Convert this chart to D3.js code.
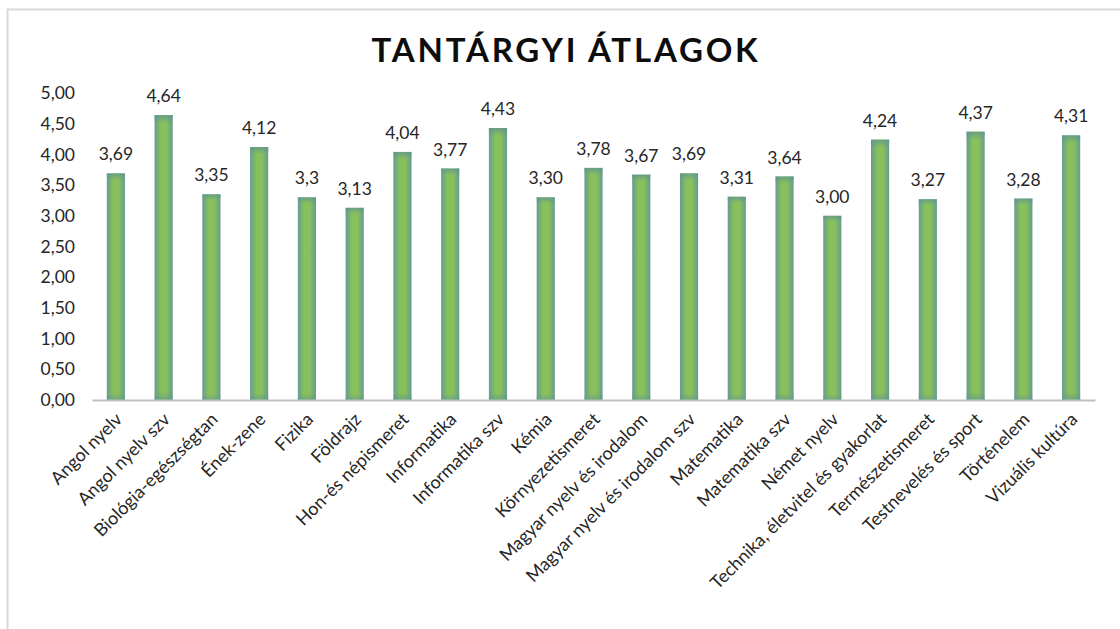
<!DOCTYPE html>
<html lang="hu">
<head>
<meta charset="utf-8">
<title>Tantárgyi átlagok</title>
<script src="https://d3js.org/d3.v7.min.js"></script>
<style>
  body { margin: 0; background: #fff; }
  text { font-family: Lato, "Open Sans", sans-serif; fill: #262626; }
</style>
</head>
<body>
<div id="chart"></div>
<script>
// data
var subjects = ["Angol nyelv", "Angol nyelv szv", "Biológia-egészségtan", "Ének-zene", "Fizika",
  "Földrajz", "Hon-és népismeret", "Informatika", "Informatika szv", "Kémia",
  "Környezetismeret", "Magyar nyelv és irodalom", "Magyar nyelv és irodalom szv", "Matematika",
  "Matematika szv", "Német nyelv", "Technika, életvitel és gyakorlat", "Természetismeret",
  "Testnevelés és sport", "Történelem", "Vizuális kultúra"];
var averages = [3.69, 4.64, 3.35, 4.12, 3.3, 3.13, 4.04, 3.77, 4.43, 3.30, 3.78,
  3.67, 3.69, 3.31, 3.64, 3.00, 4.24, 3.27, 4.37, 3.28, 4.31];
var valueLabels = ["3,69", "4,64", "3,35", "4,12", "3,3", "3,13", "4,04", "3,77", "4,43", "3,30", "3,78",
  "3,67", "3,69", "3,31", "3,64", "3,00", "4,24", "3,27", "4,37", "3,28", "4,31"];
var yTicks = [0, 0.5, 1, 1.5, 2, 2.5, 3, 3.5, 4, 4.5, 5];

var W = 1120, H = 629;
var margin = {top: 93, right: 25, bottom: 229, left: 92};

var svg = d3.select("#chart").append("svg")
    .attr("width", W)
    .attr("height", H);

// chart border (only left and top visible in the frame)
svg.append("rect")
    .attr("x", 7.5).attr("y", 9.5)
    .attr("width", W + 20).attr("height", H + 20)
    .attr("fill", "none")
    .attr("stroke", "#d9d9d9")
    .attr("stroke-width", 2);

// bar gradient: teal edges, green middle
var defs = svg.append("defs");
var grad = defs.append("linearGradient").attr("id", "barGrad")
    .attr("x1", "0%").attr("x2", "100%").attr("y1", "0%").attr("y2", "0%");
grad.append("stop").attr("offset", "0%").attr("stop-color", "#669c8e");
grad.append("stop").attr("offset", "35%").attr("stop-color", "#88c05c");
grad.append("stop").attr("offset", "65%").attr("stop-color", "#88c05c");
grad.append("stop").attr("offset", "100%").attr("stop-color", "#669c8e");
var gradV = defs.append("linearGradient").attr("id", "barTop")
    .attr("x1", "0%").attr("x2", "0%").attr("y1", "0%").attr("y2", "100%")
    .attr("gradientUnits", "objectBoundingBox");
gradV.append("stop").attr("offset", "0").attr("stop-color", "#5f968c").attr("stop-opacity", 0.8);
gradV.append("stop").attr("offset", "0.03").attr("stop-color", "#5f968c").attr("stop-opacity", 0);
gradV.append("stop").attr("offset", "0.97").attr("stop-color", "#5f968c").attr("stop-opacity", 0);
gradV.append("stop").attr("offset", "1").attr("stop-color", "#5f968c").attr("stop-opacity", 0.6);

svg.append("text")
    .attr("x", 566).attr("y", 62)
    .attr("text-anchor", "middle")
    .style("font-size", "33px")
    .style("font-weight", "bold")
    .style("letter-spacing", "2.8px")
    .style("fill", "#0d0d0d")
    .text("TANTÁRGYI ÁTLAGOK");

var g = svg.append("g")
    .attr("transform", "translate(" + margin.left + "," + margin.top + ")");
var width = W - margin.left - margin.right,
    height = H - margin.top - margin.bottom;

var x = d3.scaleBand()
    .domain(subjects)
    .range([0, width])
    .paddingInner(0.62)
    .paddingOuter(0.31);

var y = d3.scaleLinear()
    .domain([0, 5])
    .range([height, 0]);

// y axis labels, no line
var yAxis = g.append("g")
    .call(d3.axisLeft(y).tickValues(yTicks)
      .tickFormat(function(d) { return d3.format(".2f")(d).replace(".", ","); })
      .tickSize(0).tickPadding(17));
yAxis.select(".domain").remove();
yAxis.selectAll("text")
    .style("font-size", "17.5px")
    .style("font-family", "Lato, sans-serif")
    .attr("fill", "#404040");

// bars
var bars = g.selectAll(".bar")
    .data(averages)
    .enter();
bars.append("rect")
    .attr("x", function(d, i) { return x(subjects[i]); })
    .attr("y", function(d) { return y(d); })
    .attr("width", x.bandwidth())
    .attr("height", function(d) { return height - y(d); })
    .attr("fill", "url(#barGrad)");
bars.append("rect")
    .attr("x", function(d, i) { return x(subjects[i]); })
    .attr("y", function(d) { return y(d); })
    .attr("width", x.bandwidth())
    .attr("height", function(d) { return height - y(d); })
    .attr("fill", "url(#barTop)");

// value labels
g.selectAll(".val")
    .data(averages)
    .enter().append("text")
    .attr("x", function(d, i) { return x(subjects[i]) + x.bandwidth() / 2; })
    .attr("y", function(d) { return y(d) - 13; })
    .attr("text-anchor", "middle")
    .style("font-size", "17.5px")
    .style("fill", "#262626")
    .text(function(d, i) { return valueLabels[i]; });

// x axis
var xAxis = g.append("g")
    .attr("transform", "translate(0," + height + ")")
    .call(d3.axisBottom(x).tickSize(0).tickPadding(0));
xAxis.select(".domain")
    .attr("stroke", "#bfbfbf")
    .attr("stroke-width", 2);
xAxis.selectAll("text")
    .style("font-size", "18px")
    .style("font-family", "Lato, sans-serif")
    .attr("fill", "#404040")
    .attr("text-anchor", "end")
    .attr("dy", "0.35em")
    .attr("transform", "translate(3,16) rotate(-45)");
</script>
</body>
</html>
